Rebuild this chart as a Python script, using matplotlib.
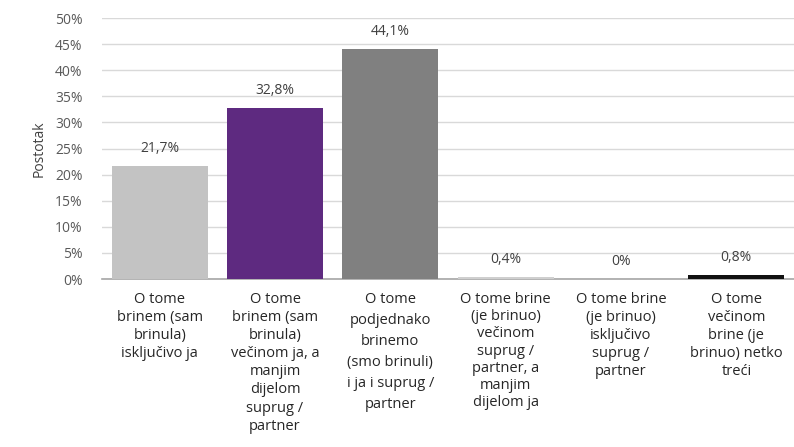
import matplotlib
matplotlib.use("Agg")
import matplotlib.pyplot as plt

plt.rcParams['font.family'] = ['Open Sans', 'DejaVu Sans']

categories = [
    "O tome\nbrinem (sam\nbrinula)\nisključivo ja",
    "O tome\nbrinem (sam\nbrinula)\nvečinom ja, a\nmanjim\ndijelom\nsuprug /\npartner",
    "O tome\npodjednako\nbrinemo\n(smo brinuli)\ni ja i suprug /\npartner",
    "O tome brine\n(je brinuo)\nvečinom\nsuprug /\npartner, a\nmanjim\ndijelom ja",
    "O tome brine\n(je brinuo)\nisključivo\nsuprug /\npartner",
    "O tome\nvečinom\nbrine (je\nbrinuo) netko\ntreći",
]
values = [21.7, 32.8, 44.1, 0.4, 0.0, 0.8]
value_labels = ["21,7%", "32,8%", "44,1%", "0,4%", "0%", "0,8%"]
colors = ["#c3c3c3", "#5e2a80", "#808080", "#cfcfcf", "#cfcfcf", "#111111"]
yticks = [0, 5, 10, 15, 20, 25, 30, 35, 40, 45, 50]
ytick_labels = [f"{t}%" for t in yticks]
line_spacings = [1.28, 1.28, 1.55, 1.2, 1.28, 1.28]

fig = plt.figure(figsize=(7.94, 4.47), dpi=100)
ax = fig.add_axes([0.1285, 0.3758, 0.8715, 0.5839])

x = list(range(len(values)))
ax.bar(x, values, width=0.83, color=colors, zorder=3)
ax.set_xlim(-0.5, len(values) - 0.5)
ax.set_ylim(0, 50)
ax.set_yticks(yticks)
ax.set_yticklabels(ytick_labels, fontsize=10, color="#595959")
ax.yaxis.grid(True, color="#d9d9d9", linewidth=1, zorder=0)
ax.set_xticks([])
ax.tick_params(axis='y', length=0, pad=14)
for s in ["top", "right", "left"]:
    ax.spines[s].set_visible(False)
ax.spines["bottom"].set_color("#a6a6a6")
ax.spines["bottom"].set_linewidth(1.2)
ax.set_ylabel("Postotak", fontsize=10, color="#404040", labelpad=6)

for xi, v, lab in zip(x, values, value_labels):
    ax.annotate(lab, (xi, v), xytext=(0, 7), textcoords="offset points",
                ha="center", va="bottom", fontsize=10, color="#404040")

for xi, cat, ls in zip(x, categories, line_spacings):
    ax.text(xi, -0.05, cat, transform=ax.get_xaxis_transform(), ha="center",
            va="top", fontsize=10.5, color="#262626", linespacing=ls)

fig.savefig("out.png", dpi=100)
